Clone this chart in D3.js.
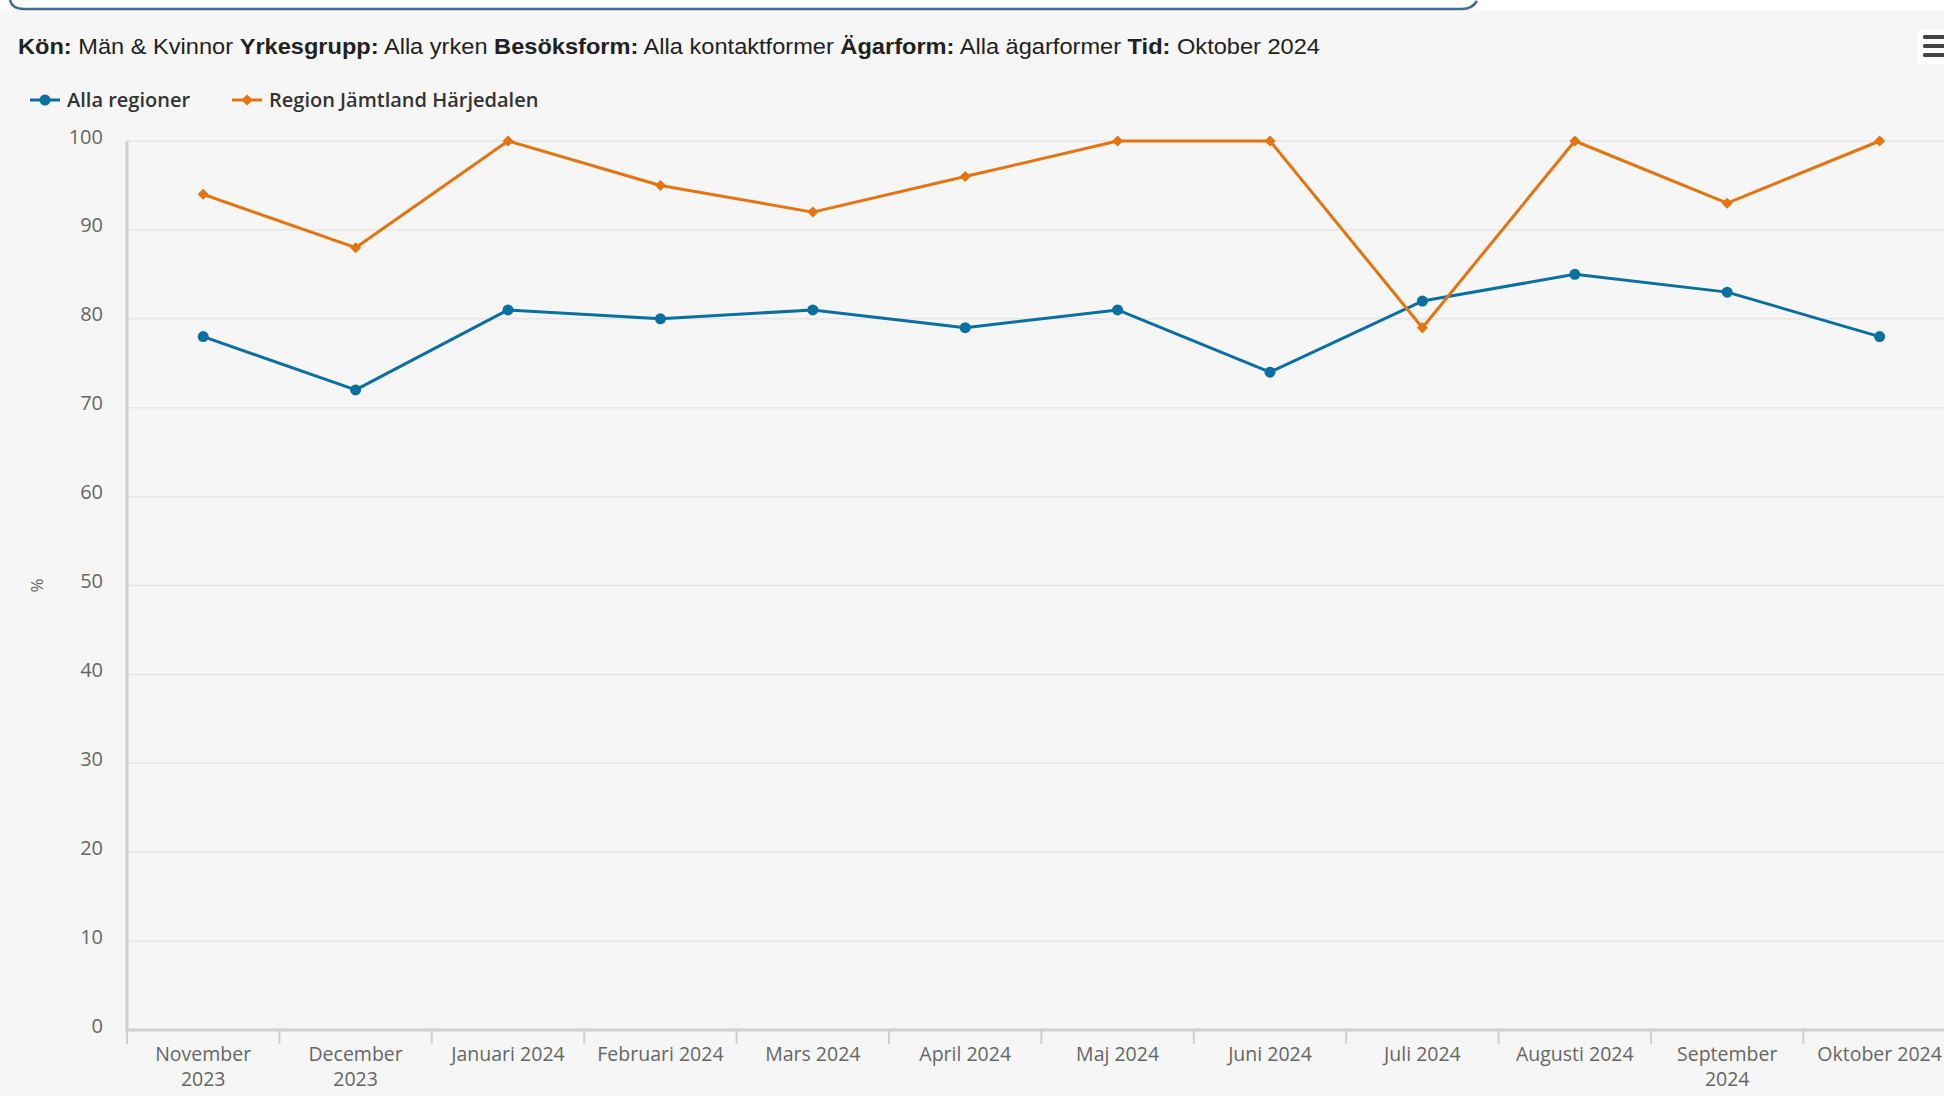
<!DOCTYPE html>
<html>
<head>
<meta charset="utf-8">
<script src="https://cdn.jsdelivr.net/npm/d3@7"></script>
<style>
  html, body { margin: 0; padding: 0; background: #f6f6f6; }
  svg { display: block; }
</style>
</head>
<body>
<script>
// ---- Data ----
const categories = ["November 2023", "December 2023", "Januari 2024", "Februari 2024", "Mars 2024", "April 2024",
  "Maj 2024", "Juni 2024", "Juli 2024", "Augusti 2024", "September 2024", "Oktober 2024"];
const allaRegioner = [78, 72, 81, 80, 81, 79, 81, 74, 82, 85, 83, 78];
const jamtland = [94, 88, 100, 95, 92, 96, 100, 100, 79, 100, 93, 100];
const seriesNames = ["Alla regioner", "Region Jämtland Härjedalen"];
const yTicks = [0, 10, 20, 30, 40, 50, 60, 70, 80, 90, 100];
const titleParts = [
  ["Kön:", true], [" Män & Kvinnor ", false],
  ["Yrkesgrupp:", true], [" Alla yrken ", false],
  ["Besöksform:", true], [" Alla kontaktformer ", false],
  ["Ägarform:", true], [" Alla ägarformer ", false],
  ["Tid:", true], [" Oktober 2024", false]
];

// ---- Layout ----
const W = 1944, H = 1096;
const colors = ["#0b6fa0", "#e5740f"];
const plotLeft = 127, bandW = 152.4;
const plotTop = 141, plotBottom = 1030;

const svg = d3.select("body").append("svg").attr("width", W).attr("height", H);
svg.append("rect").attr("width", W).attr("height", H).attr("fill", "#f6f6f6");

// top white strip with tab border
svg.append("rect").attr("width", W).attr("height", 10).attr("fill", "#ffffff");
svg.append("path")
  .attr("d", "M10,0 Q12,9 24,9 L1462,9 Q1472,9 1477,1")
  .attr("fill", "none").attr("stroke", "#3d6f8e").attr("stroke-width", 2.5);

// title
const title = svg.append("text").attr("x", 18).attr("y", 54)
  .attr("font-family", "'Liberation Sans', Arial, sans-serif").attr("font-size", 22.5).attr("fill", "#222");
titleParts.forEach(([t, b]) => {
  title.append("tspan").attr("font-weight", b ? "bold" : "normal").attr("xml:space", "preserve").text(t);
});
title.attr("textLength", 1302).attr("lengthAdjust", "spacingAndGlyphs");

// menu icon
const menu = svg.append("g");
menu.append("rect").attr("x", 1918).attr("y", 30).attr("width", 30).attr("height", 34).attr("rx", 2).attr("fill", "#ffffff");
[37, 46, 55].forEach(y => menu.append("rect").attr("x", 1923).attr("y", y - 2).attr("width", 24).attr("height", 4).attr("rx", 1.5).attr("fill", "#444"));

// scales
const x = d3.scaleBand().domain(categories).range([plotLeft, plotLeft + bandW * categories.length]).padding(0);
const y = d3.scaleLinear().domain([0, 100]).range([plotBottom, plotTop]);

// gridlines
svg.append("g").selectAll("line").data(yTicks.filter(d => d > 0)).join("line")
  .attr("x1", plotLeft).attr("x2", W).attr("y1", d => y(d)).attr("y2", d => y(d))
  .attr("stroke", "#e6e6e6").attr("stroke-width", 1.5);

// y axis
const yAxis = svg.append("g").attr("transform", `translate(${plotLeft},0)`)
  .call(d3.axisLeft(y).tickValues(yTicks).tickSize(0).tickPadding(24));
yAxis.select(".domain").attr("stroke", "#d0d0d0").attr("stroke-width", 3)
  .attr("d", `M0,${plotTop}V${plotBottom}`);
yAxis.selectAll("text").attr("font-family", "'Open Sans', sans-serif").attr("font-size", 20)
  .attr("fill", "#666").attr("dy", "0.1em");

// y label
svg.append("text").attr("transform", `translate(38,${(plotTop + plotBottom) / 2}) rotate(-90)`)
  .attr("text-anchor", "middle").attr("dominant-baseline", "middle")
  .attr("font-family", "'Open Sans', sans-serif").attr("font-size", 17).attr("fill", "#666").text("%");

// x axis
const xAxisG = svg.append("g").attr("transform", `translate(0,${plotBottom})`);
xAxisG.append("line").attr("x1", plotLeft - 1.5).attr("x2", W).attr("y1", 0).attr("y2", 0)
  .attr("stroke", "#d0d0d0").attr("stroke-width", 3);
const bounds = categories.map(c => x(c));
xAxisG.selectAll(".tk").data(bounds).join("line").attr("class", "tk")
  .attr("x1", d => d).attr("x2", d => d).attr("y1", 0).attr("y2", 14)
  .attr("stroke", "#d0d0d0").attr("stroke-width", 2);
const xl = xAxisG.selectAll(".xl").data(categories).join("text").attr("class", "xl")
  .attr("x", d => x(d) + bandW / 2).attr("y", 31)
  .attr("text-anchor", "middle")
  .attr("font-family", "'Open Sans', sans-serif").attr("font-size", 19.5).attr("fill", "#666")
  .text(d => d);
xl.each(function (d) {
  const t = d3.select(this);
  if (this.getComputedTextLength() > bandW - 12) {
    const i = d.lastIndexOf(" ");
    t.text(null);
    t.append("tspan").attr("x", x(d) + bandW / 2).text(d.slice(0, i));
    t.append("tspan").attr("x", x(d) + bandW / 2).attr("dy", 24.8).text(d.slice(i + 1));
  }
});

// lines
const line = d3.line().x((d, i) => x(categories[i]) + bandW / 2).y(d => y(d));
const seriesData = [allaRegioner, jamtland];
seriesData.forEach((s, k) => {
  svg.append("path").datum(s).attr("d", line).attr("fill", "none")
    .attr("stroke", colors[k]).attr("stroke-width", 3).attr("stroke-linejoin", "round");
});
// markers
const dmd = r => `M0,${-r}L${r},0L0,${r}L${-r},0Z`;
svg.append("g").selectAll("circle").data(allaRegioner).join("circle")
  .attr("cx", (d, i) => x(categories[i]) + bandW / 2).attr("cy", d => y(d)).attr("r", 5.5)
  .attr("fill", colors[0]);
svg.append("g").selectAll("path").data(jamtland).join("path")
  .attr("transform", (d, i) => `translate(${x(categories[i]) + bandW / 2},${y(d)})`)
  .attr("d", dmd(5.5)).attr("fill", colors[1]);

// legend
const legendX = [30, 232];
seriesNames.forEach((n, k) => {
  const g = svg.append("g").attr("transform", `translate(${legendX[k]},100)`);
  g.append("line").attr("x1", 0).attr("x2", 30).attr("stroke", colors[k]).attr("stroke-width", 3);
  if (k === 0) g.append("circle").attr("cx", 15).attr("r", 5.5).attr("fill", colors[k]);
  else g.append("path").attr("transform", "translate(15,0)").attr("d", dmd(5.5)).attr("fill", colors[k]);
  g.append("text").attr("x", 37).attr("y", 0).attr("dy", "0.35em")
    .attr("font-family", "'Open Sans', sans-serif").attr("font-weight", 600).attr("font-size", 20)
    .attr("fill", "#333").text(n);
});
</script>
</body>
</html>
